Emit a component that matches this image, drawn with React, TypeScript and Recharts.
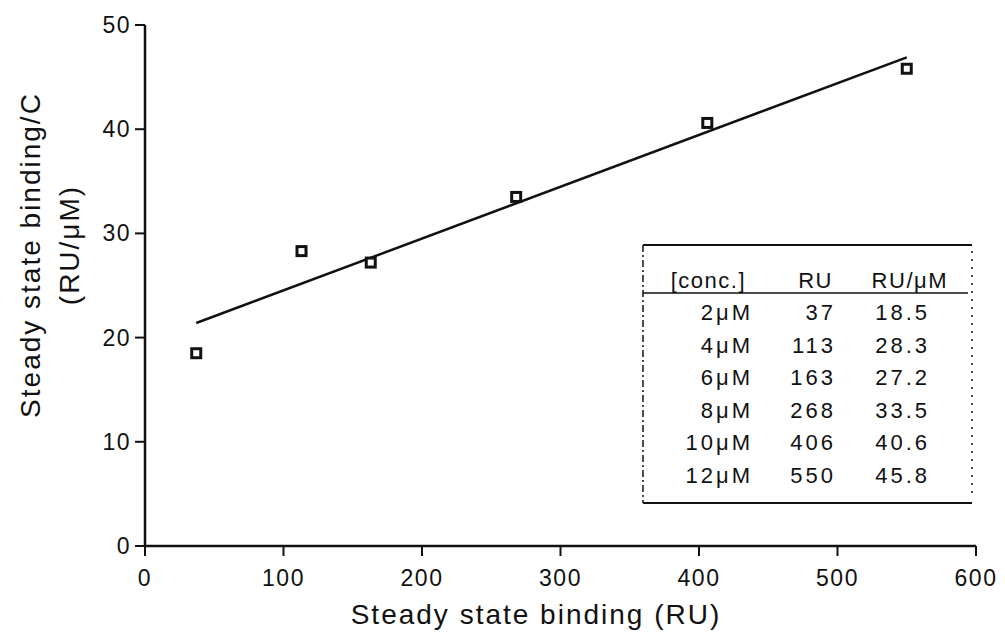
import React from 'react'
import {
  ScatterChart,
  Scatter,
  XAxis,
  YAxis,
  Customized
} from 'recharts'

// Table values (also the plotted points)
const concLabels = ['2μM', '4μM', '6μM', '8μM', '10μM', '12μM']
const ruValues = [37, 113, 163, 268, 406, 550]
const ruPerUm = [18.5, 28.3, 27.2, 33.5, 40.6, 45.8]

// Linear fit end points
const fitX = [37, 550]
const fitY = [21.4, 46.9]

const xTicks = [0, 100, 200, 300, 400, 500, 600]
const yTicks = [0, 10, 20, 30, 40, 50]

const FONT = '"Liberation Sans", Arial, Helvetica, sans-serif'
const INK = '#111'

const points = ruValues.map((ru, i) => ({ x: ru, y: ruPerUm[i] }))
const fitLine = fitX.map((x, i) => ({ x, y: fitY[i] }))

const SquareMarker = (props: any) => {
  const { cx, cy } = props
  if (cx == null || cy == null) return <g />
  return (
    <rect
      x={cx - 4.5}
      y={cy - 4.5}
      width={9}
      height={9}
      fill="#fff"
      stroke={INK}
      strokeWidth={3}
    />
  )
}

const XTick = (props: any) => {
  const { x, y, payload } = props
  return (
    <text
      x={x}
      y={y + 28}
      textAnchor="middle"
      fontSize={23}
      letterSpacing={1.5}
      fontFamily={FONT}
      fill={INK}
    >
      {payload.value}
    </text>
  )
}

const YTick = (props: any) => {
  const { x, y, payload } = props
  return (
    <text
      x={x}
      y={y + 8}
      textAnchor="end"
      fontSize={23}
      letterSpacing={1.5}
      fontFamily={FONT}
      fill={INK}
    >
      {payload.value}
    </text>
  )
}

// Axis titles
const Titles = () => (
  <g fontFamily={FONT} fill={INK} fontSize={28} letterSpacing={2}>
    <text x={536} y={624} textAnchor="middle">
      Steady state binding (RU)
    </text>
    <text x={40} y={255} textAnchor="middle" transform="rotate(-90 40 255)">
      Steady state binding/C
    </text>
    <text x={79} y={245} textAnchor="middle" transform="rotate(-90 79 245)">
      (RU/μM)
    </text>
  </g>
)

// Inset table with the raw numbers
const TableInset = () => {
  const left = 643
  const right = 972
  const top = 245
  const bottom = 503
  const headerY = 288
  const rowY0 = 320
  const rowStep = 32.6
  const colRight = [753, 836, 930]
  return (
    <g fontFamily={FONT} fill={INK} fontSize={22}>
      <line x1={left} x2={right} y1={top} y2={top} stroke={INK} strokeWidth={2} />
      <line x1={left} x2={right} y1={bottom} y2={bottom} stroke={INK} strokeWidth={2} />
      <line x1={left} x2={right - 4} y1={293} y2={293} stroke={INK} strokeWidth={1.5} />
      <line x1={left} x2={left} y1={top} y2={bottom} stroke={INK} strokeWidth={1.5} strokeDasharray="7 3 2 3" />
      <line x1={right} x2={right} y1={top + 6} y2={bottom - 6} stroke={INK} strokeWidth={1.5} strokeDasharray="2 6" />
      <g letterSpacing={1.5}>
        <text x={746} y={headerY} textAnchor="end">[conc.]</text>
        <text x={833} y={headerY} textAnchor="end">RU</text>
        <text x={948} y={headerY} textAnchor="end">RU/μM</text>
      </g>
      <g letterSpacing={3}>
        {concLabels.map((c, i) => (
          <g key={c}>
            <text x={colRight[0]} y={rowY0 + i * rowStep} textAnchor="end">{c}</text>
            <text x={colRight[1]} y={rowY0 + i * rowStep} textAnchor="end">{ruValues[i]}</text>
            <text x={colRight[2]} y={rowY0 + i * rowStep} textAnchor="end">{ruPerUm[i].toFixed(1)}</text>
          </g>
        ))}
      </g>
    </g>
  )
}

export default function App() {
  return (
    <div style={{ position: 'absolute', left: 0, top: 0, background: '#fff' }}>
      <ScatterChart
        width={1005}
        height={643}
        margin={{ top: 25, right: 29, bottom: 0, left: 0 }}
      >
        <XAxis
          type="number"
          dataKey="x"
          domain={[0, 600]}
          ticks={xTicks}
          interval={0}
          height={97}
          tick={<XTick />}
          tickSize={10}
          tickMargin={2}
          axisLine={{ stroke: INK, strokeWidth: 2.5 }}
          tickLine={{ stroke: INK, strokeWidth: 2 }}
        />
        <YAxis
          type="number"
          dataKey="y"
          domain={[0, 50]}
          ticks={yTicks}
          interval={0}
          width={145}
          tick={<YTick />}
          tickSize={10}
          tickMargin={4}
          axisLine={{ stroke: INK, strokeWidth: 2.5 }}
          tickLine={{ stroke: INK, strokeWidth: 2 }}
        />
        <Scatter
          data={fitLine}
          line={{ stroke: INK, strokeWidth: 2.5 }}
          shape={() => <g />}
          isAnimationActive={false}
        />
        <Scatter
          data={points}
          shape={<SquareMarker />}
          isAnimationActive={false}
        />
        <Customized component={Titles} />
        <Customized component={TableInset} />
      </ScatterChart>
    </div>
  )
}
